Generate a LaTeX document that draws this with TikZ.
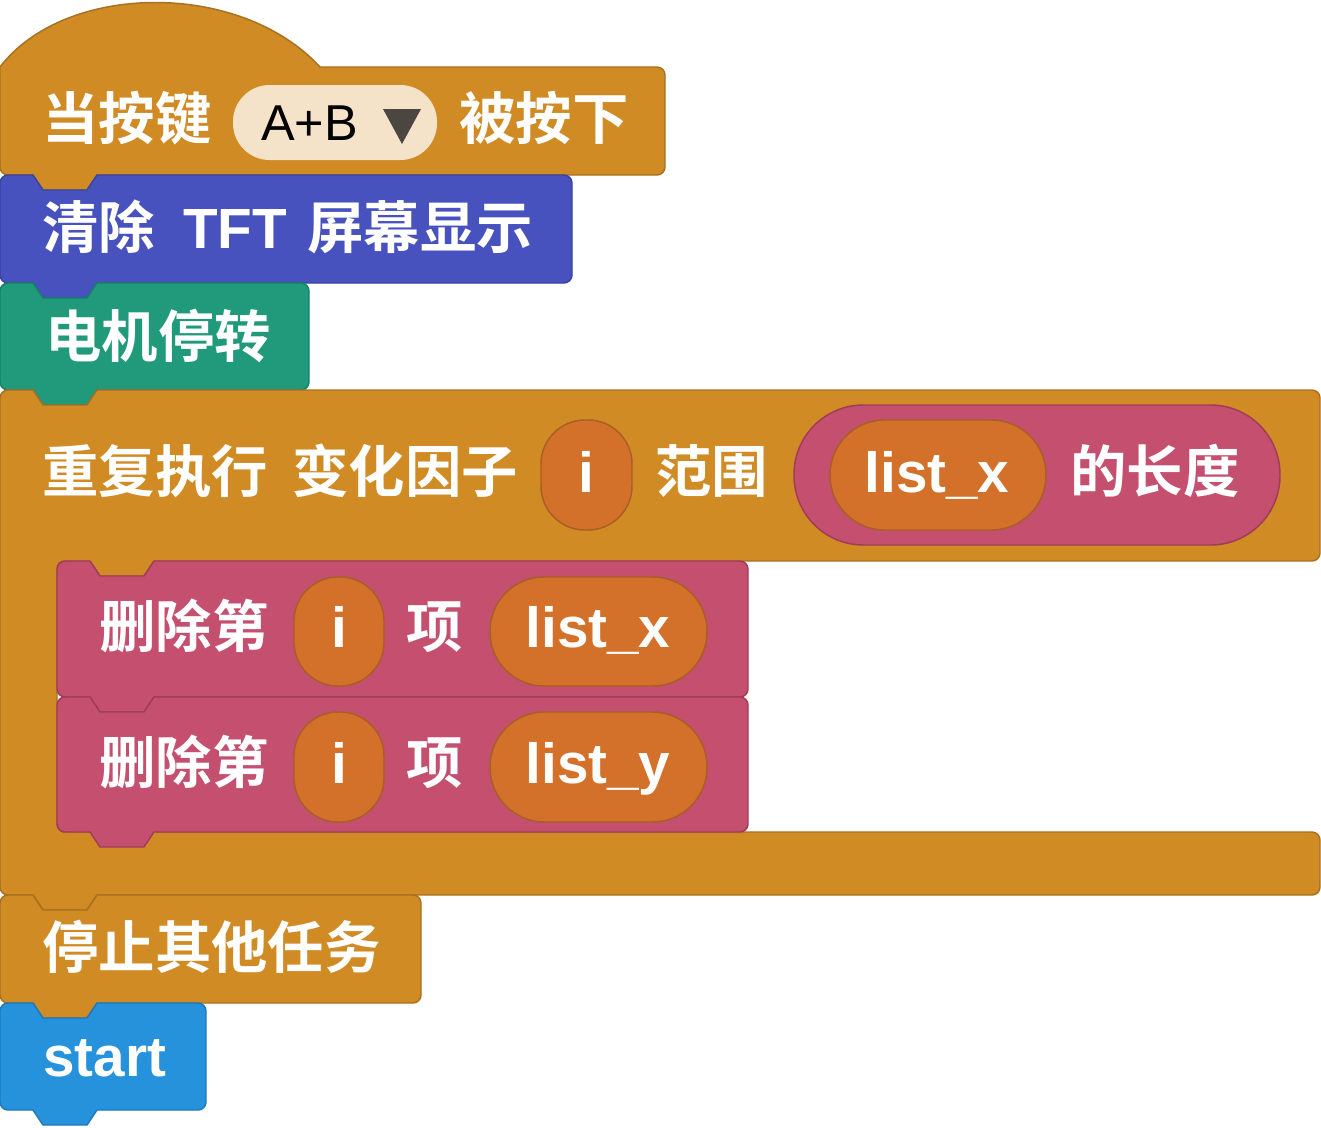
\documentclass[tikz,border=0pt]{standalone}
\usepackage{fontspec}
\newfontfamily\cjk{Noto Sans CJK SC}[BoldFont={* Bold}]
\newfontfamily\lat{Liberation Sans}
\definecolor{ctrl}{HTML}{D08B25}\definecolor{ctrlb}{HTML}{A8711F}
\definecolor{tft}{HTML}{4852BE}\definecolor{tftb}{HTML}{3A43A0}
\definecolor{mot}{HTML}{209A7A}\definecolor{motb}{HTML}{178266}
\definecolor{lst}{HTML}{C44F6F}\definecolor{lstb}{HTML}{A03C58}
\definecolor{var}{HTML}{D3712A}\definecolor{varb}{HTML}{A85E24}
\definecolor{fun}{HTML}{2692DB}\definecolor{funb}{HTML}{1F78B8}
\definecolor{cream}{HTML}{F5E3C9}\definecolor{arrowc}{HTML}{4B4640}
\newcommand{\stk}[4]{(#1,#2+8) arc[start angle=180,end angle=270,radius=8] -- (#1+33,#2) -- (#1+43,#2+15) -- (#1+87,#2+15) -- (#1+97,#2) -- (#3-8,#2) arc[start angle=270,end angle=360,radius=8] -- (#3,#4-8) arc[start angle=0,end angle=90,radius=8] -- (#1+97,#4) -- (#1+87,#4+15) -- (#1+43,#4+15) -- (#1+33,#4) -- (#1+8,#4) arc[start angle=90,end angle=180,radius=8] -- cycle}
\tikzset{
  blk/.style={line width=1.1pt, line join=round},
  cj/.style={text=white, inner sep=0pt, anchor=base west, font=\cjk\bfseries\fontsize{42.3}{48}\selectfont},
  la/.style={text=white, inner sep=0pt, anchor=base west, font=\lat\bfseries\fontsize{42.5}{48}\selectfont},
  lac/.style={la, anchor=base},
  pillv/.style={fill=var, draw=varb, line width=1.1pt}
}
\begin{document}
\begin{tikzpicture}[x=0.75pt,y=-0.75pt]
\useasboundingbox (0,0) rectangle (1321,1128);
% hat block
\draw[blk, fill=ctrl, draw=ctrlb] (0,67) .. controls (65,-18) and (240,-20) .. (320,67) -- (657,67) arc[start angle=270,end angle=360,radius=8] -- (665,167) arc[start angle=0,end angle=90,radius=8] -- (97,175) -- (87,190) -- (43,190) -- (33,175) -- (8,175) arc[start angle=90,end angle=180,radius=8] -- cycle;
\node[cj] (h1) at (42,139) {当按键};
\fill[cream, rounded corners=27.5pt] (233,85) rectangle (437,160);
\node[inner sep=0pt, anchor=base west, font=\lat\fontsize{37.8}{44}\selectfont, text=black] (ab) at (261,140) {A+B};
\fill[arrowc] (383,109) -- (421,109) -- (402,144) -- cycle;
\node[cj] (h2) at (459,139) {被按下};
% clear TFT
\draw[blk, fill=tft, draw=tftb] \stk{0}{175}{572}{283};
\node[cj] (c1) at (42,248) {清除};
\node[la] (c2) at (183,248) {TFT};
\node[cj] (c3) at (307,248) {屏幕显示};
% motor stop
\draw[blk, fill=mot, draw=motb] \stk{0}{283}{309}{390};
\node[cj] (m1) at (45,357) {电机停转};
% loop C block
\draw[blk, fill=ctrl, draw=ctrlb] (0,398) arc[start angle=180,end angle=270,radius=8] -- (33,390) -- (43,405) -- (87,405) -- (97,390) -- (1312,390) arc[start angle=270,end angle=360,radius=8] -- (1320,553) arc[start angle=0,end angle=90,radius=8] -- (154,561) -- (144,576) -- (100,576) -- (90,561) -- (65,561) arc[start angle=270,end angle=180,radius=8] -- (57,824) arc[start angle=180,end angle=90,radius=8] -- (1312,832) arc[start angle=270,end angle=360,radius=8] -- (1320,887) arc[start angle=0,end angle=90,radius=8] -- (97,895) -- (87,910) -- (43,910) -- (33,895) -- (8,895) arc[start angle=90,end angle=180,radius=8] -- cycle;
\node[cj] (l1) at (42,492) {重复执行};
\node[cj] (l2) at (292,492) {变化因子};
\draw[pillv, rounded corners=33pt] (541,420) rectangle (632,530);
\node[lac] (li) at (586.5,492) {i};
\node[cj] (l3) at (655,492) {范围};
\draw[fill=lst, draw=lstb, line width=1.1pt, rounded corners=52pt] (794,405) rectangle (1280,545);
\draw[pillv, rounded corners=41pt] (830,420) rectangle (1046,530);
\node[lac] (lx) at (937,492) {list\_x};
\node[cj] (l4) at (1070,492) {的长度};
% delete item 1
\draw[blk, fill=lst, draw=lstb] \stk{57}{561}{748}{697};
\node[cj] (d1) at (99,647) {删除第};
\draw[pillv, rounded corners=33pt] (294,577) rectangle (384,686);
\node[lac] (d1i) at (339,647) {i};
\node[cj] (d1b) at (406,647) {项};
\draw[pillv, rounded corners=40.5pt] (490,577) rectangle (707,686);
\node[lac] (d1x) at (598,647) {list\_x};
% delete item 2
\draw[blk, fill=lst, draw=lstb] \stk{57}{697}{748}{832};
\node[cj] (d2) at (99,783) {删除第};
\draw[pillv, rounded corners=33pt] (294,712) rectangle (384,822);
\node[lac] (d2i) at (339,783) {i};
\node[cj] (d2b) at (406,783) {项};
\draw[pillv, rounded corners=41pt] (490,712) rectangle (707,822);
\node[lac] (d2y) at (598,783) {list\_y};
% stop other tasks
\draw[blk, fill=ctrl, draw=ctrlb] \stk{0}{895}{421}{1003};
\node[cj] (s1) at (42,968) {停止其他任务};
% start
\draw[blk, fill=fun, draw=funb] \stk{0}{1003}{206}{1110};
\node[la] (st) at (43,1076) {start};
\end{tikzpicture}
\end{document}
